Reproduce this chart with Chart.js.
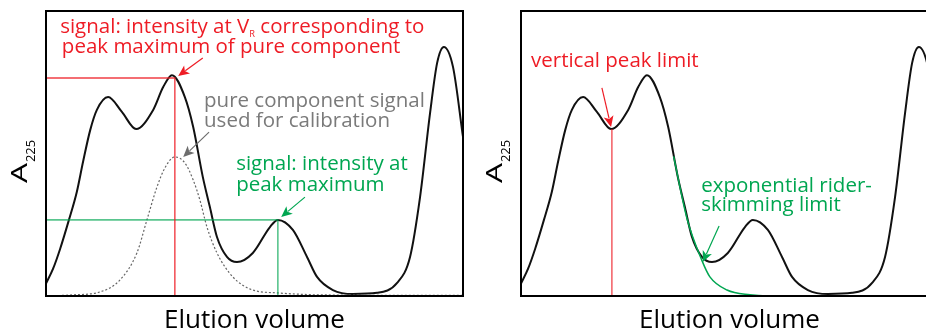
<!DOCTYPE html>
<html lang="en">
<head>
  <meta charset="UTF-8">
  <title>Peak integration: calibration vs. limits</title>
  <style>
    html, body { margin: 0; padding: 0; background: #fff; }
    body { width: 926px; height: 332px; overflow: hidden; position: relative; }
    .panel { position: absolute; top: 0; width: 470px; height: 332px; }
    #left { left: 0; }
    #right { left: 475px; }
  </style>
</head>
<body>
  <div class="panel" id="left"><canvas id="chart-left" width="470" height="332"></canvas></div>
  <div class="panel" id="right"><canvas id="chart-right" width="470" height="332"></canvas></div>

  <script src="https://cdn.jsdelivr.net/npm/chart.js"></script>
  <script>
    // chromatogram, x = elution volume (0..100 across the frame), y = A225 (0..100)
    const elution = [0, 1.7, 3.4, 5.5, 7.4, 8.9, 10.6, 12.2, 14.9, 18.2, 21.6, 25.7, 28.1, 30.2, 33.3, 35.3,
      37.6, 39.3, 41.0, 43.4, 45.8, 49.6, 53.7, 55.6, 59.2, 62.6, 65.0, 68.8, 73.6, 79.4, 84.2,
      87.3, 89.7, 92.1, 93.8, 95.4, 97.6, 100];
    const absorbance = [4.4, 9.6, 16.6, 26.7, 36.6, 47.2, 58.2, 65.3, 69.8, 64.6, 58.6, 65.3, 73.3, 77.5, 69.8, 59.3,
      41.8, 31.2, 20.7, 13.7, 11.9, 15.1, 24.2, 26.7, 23.2, 13.7, 6.7, 2.1, 0.7, 1.1, 4.6,
      13.7, 34.7, 64.2, 81.8, 87.4, 80.4, 55.8];

    // pure component signal used for calibration
    const pureX = [0, 6.5, 12.9, 17.7, 21.8, 24.2, 26.6, 28.5, 30.9, 33.3, 35.3, 36.9, 38.6, 41.0, 44.8, 49.6, 55.4, 65.7, 100];
    const pureY = [0, 0.4, 1.4, 5.6, 15.1, 26.7, 38.2, 44.9, 48.8, 46.7, 40.7, 33.7, 24.2, 15.1, 6.7, 2.1, 1.1, 0.4, 0.2];

    // exponential rider-skimming limit
    const skimX = [36.6, 39.8, 43.4, 45.3, 49.4, 54.9, 59.0, 100];
    const skimY = [49.0, 27.2, 12.4, 6.7, 2.1, 0.4, 0, 0];

    // read-out guides
    const pureMaxX = 30.9, pureMaxY = 76.5;
    const riderMaxX = 55.6, riderMaxY = 26.7;
    const valleyX = 21.8, valleyY = 58.6;

    const pts = (xs, ys) => xs.map((x, i) => ({ x: x, y: ys[i] }));

    const RED = '#ee1c25', GREEN = '#00a651', GREY = '#7a7a7a';
    const FONT = '"Open Sans", "DejaVu Sans", sans-serif';

    function drawArrow(ctx, x1, y1, x2, y2, color) {
      const ang = Math.atan2(y2 - y1, x2 - x1);
      const len = 11, half = 5;
      ctx.strokeStyle = color;
      ctx.fillStyle = color;
      ctx.lineWidth = 1.2;
      ctx.beginPath();
      ctx.moveTo(x1, y1);
      ctx.lineTo(x2 - Math.cos(ang) * len * 0.8, y2 - Math.sin(ang) * len * 0.8);
      ctx.stroke();
      ctx.beginPath();
      ctx.moveTo(x2, y2);
      ctx.lineTo(x2 - Math.cos(ang) * len - Math.sin(ang) * half, y2 - Math.sin(ang) * len + Math.cos(ang) * half);
      ctx.lineTo(x2 - Math.cos(ang) * len * 0.75, y2 - Math.sin(ang) * len * 0.75);
      ctx.lineTo(x2 - Math.cos(ang) * len + Math.sin(ang) * half, y2 - Math.sin(ang) * len - Math.cos(ang) * half);
      ctx.closePath();
      ctx.fill();
    }

    // text made of runs, a run with sub:true is drawn small and lowered
    function drawRuns(ctx, x, y, runs, size, color) {
      ctx.fillStyle = color;
      ctx.textBaseline = 'alphabetic';
      ctx.textAlign = 'left';
      runs.forEach(r => {
        const s = r.sub ? size * 0.45 : size;
        ctx.font = s + 'px ' + FONT;
        ctx.fillText(r.t, x, y + (r.sub ? size * 0.2 : 0));
        x += ctx.measureText(r.t).width;
      });
    }

    const annotate = {
      id: 'annotate',
      afterDraw(chart, args, opts) {
        const ctx = chart.ctx, a = chart.chartArea;
        const sx = chart.scales.x, sy = chart.scales.y;
        ctx.save();

        // frame
        ctx.strokeStyle = '#000';
        ctx.lineWidth = 2;
        ctx.strokeRect(a.left, a.top, a.right - a.left, a.bottom - a.top);

        // x title
        ctx.fillStyle = '#000';
        ctx.font = '26px ' + FONT;
        ctx.textAlign = 'center';
        ctx.textBaseline = 'alphabetic';
        ctx.fillText('Elution volume', (a.left + a.right) / 2, a.bottom + 32);

        // y title A225 (rotated)
        ctx.save();
        ctx.translate(a.left - 19, a.top + 172);
        ctx.rotate(-Math.PI / 2);
        ctx.textAlign = 'left';
        ctx.font = '21px ' + FONT;
        ctx.save();
        ctx.scale(1.5, 1);
        ctx.fillText('A', 0, 0);
        ctx.restore();
        const aw = ctx.measureText('A').width * 1.5;
        ctx.font = '13px ' + FONT;
        ctx.fillText('225', aw + 1, 8);
        ctx.restore();

        (opts.arrows || []).forEach(ar => {
          drawArrow(ctx, sx.getPixelForValue(ar.from[0]), sy.getPixelForValue(ar.from[1]),
            sx.getPixelForValue(ar.to[0]), sy.getPixelForValue(ar.to[1]), ar.color);
        });
        (opts.notes || []).forEach(n => {
          drawRuns(ctx, sx.getPixelForValue(n.at[0]), sy.getPixelForValue(n.at[1]), n.runs, n.size, n.color);
        });
        ctx.restore();
      }
    };

    function makeChart(id, datasets, notes, arrows) {
      return new Chart(document.getElementById(id), {
        type: 'line',
        data: { datasets: datasets },
        options: {
          responsive: false,
          animation: false,
          layout: { padding: { left: 46, right: 7, top: 11, bottom: 36 } },
          plugins: {
            legend: { display: false },
            tooltip: { enabled: false },
            annotate: { notes: notes, arrows: arrows }
          },
          elements: { point: { radius: 0 } },
          scales: {
            x: { type: 'linear', min: 0, max: 100, display: false },
            y: { type: 'linear', min: 0, max: 100, display: false }
          }
        },
        plugins: [annotate]
      });
    }

    const chromatogram = () => ({
      data: pts(elution, absorbance), borderColor: '#111', borderWidth: 2,
      cubicInterpolationMode: 'monotone'
    });

    const TS = 20.5;

    makeChart('chart-left', [
      { data: [{ x: 0, y: pureMaxY }, { x: pureMaxX, y: pureMaxY }, { x: pureMaxX, y: 0 }],
        borderColor: 'rgba(237,28,36,0.85)', borderWidth: 1.4, tension: 0 },
      { data: [{ x: 0, y: riderMaxY }, { x: riderMaxX, y: riderMaxY }, { x: riderMaxX, y: 0 }],
        borderColor: 'rgba(0,166,81,0.65)', borderWidth: 1.6, tension: 0 },
      { data: pts(pureX, pureY), borderColor: '#666', borderWidth: 1.2, borderDash: [2, 2],
        cubicInterpolationMode: 'monotone' },
      chromatogram()
    ], [
      { at: [3.4, 92.3], size: TS, color: RED,
        runs: [{ t: 'signal: intensity at V' }, { t: 'R', sub: true }, { t: ' corresponding to' }] },
      { at: [3.8, 85.3], size: TS, color: RED, runs: [{ t: 'peak maximum of pure component' }] },
      { at: [37.9, 66.4], size: TS, color: GREY, runs: [{ t: 'pure component signal' }] },
      { at: [37.9, 59.4], size: TS, color: GREY, runs: [{ t: 'used for calibration' }] },
      { at: [45.6, 44.2], size: TS, color: GREEN, runs: [{ t: 'signal: intensity at' }] },
      { at: [45.6, 36.9], size: TS, color: GREEN, runs: [{ t: 'peak maximum' }] }
    ], [
      { from: [37.6, 83.5], to: [31.7, 77.2], color: RED },
      { from: [39.1, 57.5], to: [32.9, 48.8], color: '#6d6d6d' },
      { from: [62.1, 34.7], to: [56.4, 27.7], color: GREEN }
    ]);

    makeChart('chart-right', [
      { data: [{ x: valleyX, y: 0 }, { x: valleyX, y: valleyY }],
        borderColor: 'rgba(237,28,36,0.9)', borderWidth: 1.2, tension: 0 },
      { data: pts(skimX, skimY), borderColor: GREEN, borderWidth: 1.5, cubicInterpolationMode: 'monotone' },
      chromatogram()
    ], [
      { at: [2.4, 80.4], size: TS, color: RED, runs: [{ t: 'vertical peak limit' }] },
      { at: [43.2, 36.5], size: TS, color: GREEN, runs: [{ t: 'exponential rider-' }] },
      { at: [43.2, 29.8], size: TS, color: GREEN, runs: [{ t: 'skimming limit' }] }
    ], [
      { from: [19.4, 73.0], to: [21.6, 59.3], color: RED },
      { from: [47.5, 24.6], to: [43.6, 11.9], color: GREEN }
    ]);
  </script>
</body>
</html>
